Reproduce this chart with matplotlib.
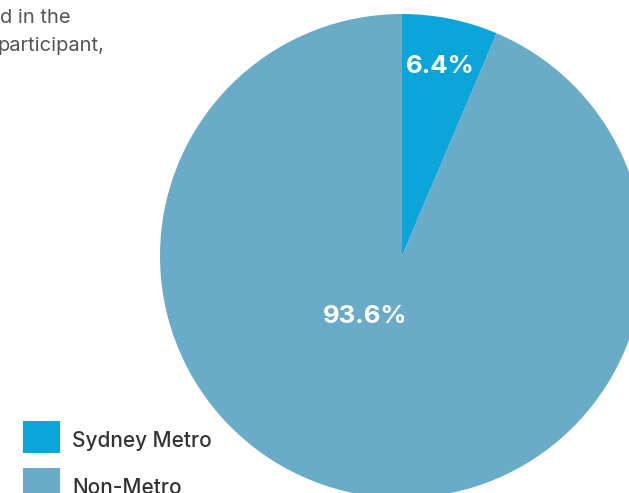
import numpy as np
import matplotlib.pyplot as plt

# share of participants by region
regions = ['Sydney Metro', 'Non-Metro']
shares = [6.4, 93.6]
colors = ['#0ba5d9', '#6aabc8']
intro_lines = ['d in the', 'participant,']

W, H = 629, 493
fig = plt.figure(figsize=(W / 100, H / 100), dpi=100)
fig.patch.set_facecolor('white')
font = 'Inter'

# pie centred at (402, 256) px with radius 242 px, running off the right/bottom edge
cx, cy, r = 402, 256, 242
ax = fig.add_axes([(cx - r) / W, (H - cy - r) / H, 2 * r / W, 2 * r / H])

wedges, texts, autotexts = ax.pie(
    shares, colors=colors, startangle=90, counterclock=False, radius=1,
    autopct='%.1f%%', pctdistance=0.8,
    wedgeprops=dict(linewidth=0),
    textprops=dict(color='white', fontsize=18.5, fontweight='bold', family=font))
for w in wedges:
    w.set_clip_on(False)
ax.set_aspect('equal')
ax.set_xlim(-1, 1)
ax.set_ylim(-1, 1)
ax.axis('off')
# big slice label sits just below the centre
autotexts[1].set_position((-0.153, -0.25))
autotexts[0].set_position((0.157, 0.785))

# cropped paragraph text in the top-left corner
fig.text(71 / W, 1 - 18 / H, intro_lines[0], ha='right', va='center',
         fontsize=14.5, color='#555555', family=font)
fig.text(104 / W, 1 - 46 / H, intro_lines[1], ha='right', va='center',
         fontsize=14.5, color='#555555', family=font)

# legend swatches and labels
for i, (lab, col) in enumerate(zip(regions, colors)):
    y0 = 421 + i * 47
    fig.patches.append(plt.Rectangle((23 / W, 1 - (y0 + 32) / H), 37 / W, 32 / H,
                                     transform=fig.transFigure, color=col,
                                     linewidth=0))
    fig.text(72 / W, 1 - (y0 + 20) / H, lab, ha='left', va='center',
             fontsize=15, fontweight='medium', color='#333333', family=font)

fig.savefig('out.png', dpi=100)
